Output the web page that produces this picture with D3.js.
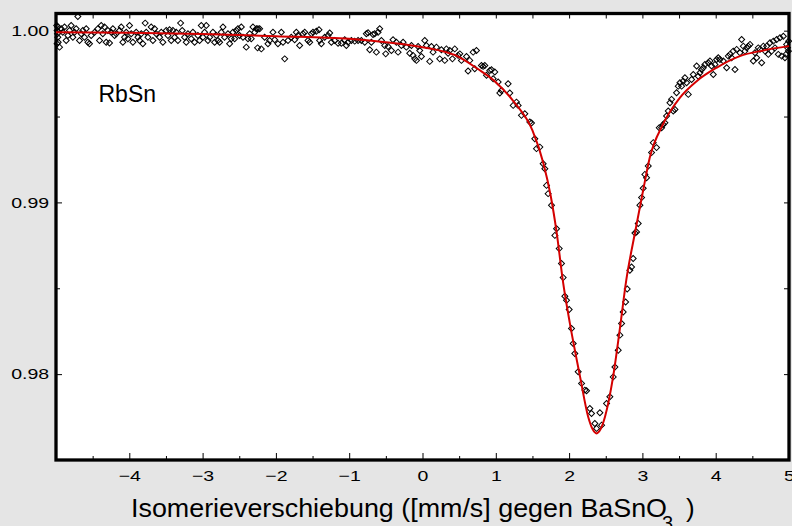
<!DOCTYPE html>
<html>
<head>
<meta charset="utf-8">
<script src="https://cdn.jsdelivr.net/npm/d3@7"></script>
<style>
  body { margin: 0; background: #e5e5e5; }
  svg { display: block; }
</style>
</head>
<body>
<svg id="chart"></svg>
<script>
// measured spectrum: [velocity (mm/s), relative transmission]
const measured = [
  [-4.99,1.00030],[-4.985,1.00001],[-4.985,0.99924],[-4.98,0.99982],[-4.975,0.99962],[-4.975,1.00021],[-4.97,0.99933],[-4.952,0.99904],
  [-4.929,1.00011],[-4.907,0.99991],[-4.884,1.00021],[-4.861,0.99943],[-4.838,0.99972],[-4.816,1.00001],[-4.793,1.00030],[-4.770,0.99962],
  [-4.747,0.99991],[-4.725,1.00011],[-4.702,1.00083],[-4.679,0.99943],[-4.656,0.99982],[-4.634,1.00001],[-4.611,0.99962],[-4.588,1.00011],
  [-4.565,0.99933],[-4.543,0.99924],[-4.520,0.99972],[-4.474,0.99991],[-4.429,1.00011],[-4.406,0.99943],[-4.383,1.00030],[-4.361,0.99982],
  [-4.338,1.00021],[-4.315,0.99933],[-4.292,1.00001],[-4.270,0.99928],[-4.247,0.99991],[-4.224,1.00011],[-4.201,0.99972],[-4.179,0.99982],
  [-4.133,1.00001],[-4.110,1.00021],[-4.088,0.99933],[-4.065,0.99962],[-4.042,0.99991],[-4.019,0.99953],[-3.997,1.00030],[-3.974,0.99982],
  [-3.951,0.99933],[-3.906,0.99991],[-3.883,0.99962],[-3.860,0.99943],[-3.837,0.99982],[-3.815,0.99924],[-3.783,1.00044],[-3.769,0.99991],
  [-3.746,0.99962],[-3.701,1.00021],[-3.678,0.99943],[-3.655,1.00011],[-3.633,0.99982],[-3.587,0.99962],[-3.564,0.99991],[-3.542,0.99933],
  [-3.496,1.00001],[-3.473,0.99972],[-3.451,1.00005],[-3.428,0.99943],[-3.405,1.00001],[-3.382,0.99962],[-3.360,0.99991],[-3.337,0.99943],
  [-3.300,1.00044],[-3.278,1.00001],[-3.246,0.99962],[-3.223,0.99933],[-3.200,0.99982],[-3.155,0.99953],[-3.132,0.99991],[-3.109,0.99933],
  [-3.064,0.99972],[-3.041,0.99943],[-3.018,1.00030],[-2.995,0.99962],[-2.973,0.99991],[-2.950,1.00030],[-2.927,0.99943],[-2.904,0.99962],
  [-2.859,0.99991],[-2.836,0.99933],[-2.813,0.99972],[-2.791,0.99943],[-2.768,0.99933],[-2.745,0.99991],[-2.722,1.00021],[-2.700,0.99962],
  [-2.654,0.99982],[-2.631,0.99924],[-2.609,0.99953],[-2.586,0.99991],[-2.563,0.99953],[-2.540,1.00001],[-2.518,1.00011],[-2.495,0.99972],
  [-2.472,1.00021],[-2.449,0.99962],[-2.404,0.99904],[-2.381,0.99953],[-2.358,0.99982],[-2.336,0.99953],[-2.313,1.00021],[-2.290,0.99991],
  [-2.267,1.00011],[-2.250,0.99900],[-2.245,1.00011],[-2.222,1.00011],[-2.199,0.99894],[-2.154,0.99962],[-2.108,0.99924],[-2.085,0.99943],
  [-2.040,0.99991],[-2.017,0.99947],[-1.972,0.99924],[-1.926,0.99991],[-1.903,0.99933],[-1.880,0.99836],[-1.835,0.99943],[-1.790,0.99962],
  [-1.744,0.99947],[-1.721,0.99991],[-1.699,0.99972],[-1.676,0.99914],[-1.630,0.99982],[-1.607,0.99991],[-1.562,0.99943],[-1.539,0.99933],
  [-1.516,0.99982],[-1.494,0.99991],[-1.448,0.99997],[-1.412,1.00005],[-1.403,0.99943],[-1.380,0.99924],[-1.334,0.99962],[-1.289,0.99972],
  [-1.266,0.99986],[-1.243,0.99933],[-1.198,0.99943],[-1.152,0.99927],[-1.107,0.99927],[-1.061,0.99947],[-1.039,0.99914],[-1.016,0.99933],
  [-0.970,0.99943],[-0.925,0.99939],[-0.879,0.99943],[-0.834,0.99943],[-0.788,0.99933],[-0.766,0.99982],[-0.743,0.99988],[-0.720,0.99889],
  [-0.697,0.99933],[-0.675,0.99978],[-0.652,0.99982],[-0.629,0.99875],[-0.606,0.99991],[-0.584,1.00011],[-0.561,0.99943],[-0.515,0.99914],
  [-0.502,0.99865],[-0.470,0.99908],[-0.424,0.99885],[-0.402,0.99947],[-0.356,0.99933],[-0.333,0.99875],[-0.288,0.99914],[-0.265,0.99933],
  [-0.220,0.99904],[-0.174,0.99869],[-0.151,0.99914],[-0.129,0.99856],[-0.106,0.99836],[-0.083,0.99827],[-0.060,0.99908],[-0.038,0.99885],
  [-0.015,0.99850],[0.031,0.99943],[0.053,0.99914],[0.099,0.99821],[0.122,0.99908],[0.144,0.99875],[0.190,0.99904],[0.235,0.99836],
  [0.258,0.99889],[0.304,0.99827],[0.326,0.99894],[0.349,0.99869],[0.372,0.99885],[0.408,0.99836],[0.440,0.99894],[0.486,0.99856],
  [0.509,0.99865],[0.531,0.99827],[0.600,0.99850],[0.622,0.99765],[0.645,0.99827],[0.691,0.99875],[0.713,0.99778],[0.736,0.99885],
  [0.804,0.99797],[0.827,0.99792],[0.850,0.99797],[0.873,0.99740],[0.918,0.99768],[0.941,0.99772],[0.964,0.99720],[0.986,0.99759],
  [1.032,0.99701],[1.055,0.99637],[1.077,0.99652],[1.168,0.99691],[1.191,0.99637],[1.237,0.99565],[1.282,0.99584],[1.305,0.99565],
  [1.350,0.99507],[1.396,0.99516],[1.464,0.99468],[1.487,0.99462],[1.532,0.99371],[1.555,0.99313],[1.601,0.99322],[1.646,0.99225],
  [1.669,0.99196],[1.692,0.99099],[1.714,0.99051],[1.760,0.98983],[1.806,0.98808],[1.829,0.98847],[1.865,0.98731],[1.896,0.98644],
  [1.919,0.98562],[1.942,0.98454],[1.965,0.98430],[2.001,0.98376],[2.033,0.98266],[2.056,0.98178],[2.078,0.98120],[2.124,0.98014],
  [2.170,0.97946],[2.215,0.97907],[2.238,0.97903],[2.283,0.97800],[2.306,0.97771],[2.351,0.97713],[2.375,0.97684],[2.420,0.97775],
  [2.443,0.97703],[2.511,0.97829],[2.556,0.97868],[2.602,0.97984],[2.625,0.98042],[2.670,0.98139],[2.693,0.98227],[2.716,0.98295],
  [2.738,0.98362],[2.771,0.98420],[2.793,0.98496],[2.829,0.98605],[2.852,0.98624],[2.874,0.98673],[2.898,0.98822],[2.920,0.98828],
  [2.943,0.98877],[2.966,0.98983],[2.989,0.99028],[3.011,0.99082],[3.034,0.99163],[3.057,0.99144],[3.080,0.99212],[3.125,0.99290],
  [3.148,0.99348],[3.193,0.99319],[3.230,0.99435],[3.262,0.99435],[3.284,0.99454],[3.307,0.99464],[3.330,0.99503],[3.353,0.99532],
  [3.376,0.99580],[3.398,0.99600],[3.421,0.99532],[3.444,0.99541],[3.466,0.99639],[3.489,0.99677],[3.512,0.99697],[3.535,0.99677],
  [3.557,0.99706],[3.580,0.99726],[3.603,0.99697],[3.626,0.99629],[3.671,0.99716],[3.694,0.99745],[3.740,0.99794],[3.762,0.99735],
  [3.785,0.99755],[3.808,0.99774],[3.831,0.99784],[3.853,0.99803],[3.899,0.99813],[3.922,0.99823],[3.944,0.99794],[3.967,0.99745],
  [3.990,0.99803],[4.013,0.99832],[4.035,0.99842],[4.058,0.99832],[4.104,0.99823],[4.149,0.99784],[4.172,0.99852],[4.195,0.99862],
  [4.217,0.99842],[4.240,0.99881],[4.263,0.99774],[4.286,0.99891],[4.331,0.99871],[4.354,0.99949],[4.377,0.99910],[4.399,0.99881],
  [4.422,0.99900],[4.445,0.99910],[4.468,0.99920],[4.513,0.99823],[4.536,0.99871],[4.559,0.99842],[4.581,0.99900],[4.604,0.99891],
  [4.627,0.99813],[4.650,0.99910],[4.672,0.99881],[4.695,0.99910],[4.718,0.99862],[4.741,0.99930],[4.763,0.99881],[4.786,0.99939],
  [4.809,0.99900],[4.832,0.99949],[4.854,0.99862],[4.877,0.99959],[4.900,0.99852],[4.923,0.99968],[4.945,0.99842],[4.960,0.99862],
  [4.968,0.99920],[4.980,0.99900],[4.991,0.99881],[4.995,0.99939]
];

// fitted curve
const fitted = [
  [-5,0.99991],[-4,0.99988],[-3,0.99981],[-2,0.99968],[-1,0.99953],[-0.5,0.99933],[0,0.99904],[0.5,0.99846],
  [0.75,0.99778],[1.0,0.99700],[1.25,0.99584],[1.5,0.99419],[1.65,0.99227],[1.75,0.99036],[1.83,0.98826],[1.92,0.98528],
  [2.01,0.98297],[2.15,0.97984],[2.26,0.97752],[2.32,0.97680],[2.375,0.97655],[2.43,0.97680],[2.49,0.97752],[2.60,0.97984],
  [2.69,0.98256],[2.78,0.98547],[2.90,0.98826],[3.01,0.99070],[3.10,0.99260],[3.28,0.99454],[3.51,0.99609],[3.74,0.99706],
  [4.01,0.99784],[4.33,0.99852],[4.65,0.99885],[5.0,0.99910]
];

const xMajor = [-4, -3, -2, -1, 0, 1, 2, 3, 4, 5];
const xMinor = [-4.5, -3.5, -2.5, -1.5, -0.5, 0.5, 1.5, 2.5, 3.5, 4.5];
const yMajor = [0.98, 0.99, 1.00];
const yMinor = [0.985, 0.995];

const W = 792, H = 526;
const font = "'Liberation Sans', Arial, Helvetica, sans-serif";

const svg = d3.select("#chart").attr("width", W).attr("height", H);

svg.append("rect").attr("width", W).attr("height", H).attr("fill", "#e5e5e5");

const x = d3.scaleLinear().domain([-5, 5]).range([56, 789]);
const y = d3.scaleLinear().domain([0.975, 1.001]).range([460, 13.5]);

// plot background
svg.append("rect")
  .attr("x", x(-5)).attr("y", y(1.001))
  .attr("width", x(5) - x(-5)).attr("height", y(0.975) - y(1.001))
  .attr("fill", "#fff");

function styleAxis(g) {
  g.select(".domain").remove();
  g.selectAll(".tick line").attr("stroke", "#000").attr("stroke-width", 1);
  g.selectAll("text")
    .attr("font-family", font)
    .attr("font-size", 15)
    .attr("fill", "#000")
    .attr("transform", "scale(1.3,1)");
}

// bottom axis
svg.append("g").attr("transform", `translate(0,${y(0.975)})`)
  .call(d3.axisBottom(x).tickValues(xMajor).tickSize(-7).tickPadding(10).tickFormat(d3.format("d")))
  .call(styleAxis);
svg.append("g").attr("transform", `translate(0,${y(0.975)})`)
  .call(d3.axisBottom(x).tickValues(xMinor).tickSize(-4).tickFormat(""))
  .call(styleAxis);

// top axis
svg.append("g").attr("transform", `translate(0,${y(1.001)})`)
  .call(d3.axisTop(x).tickValues(xMajor.concat(xMinor)).tickSize(-5).tickFormat(""))
  .call(styleAxis);

// left axis
svg.append("g").attr("transform", `translate(${x(-5)},0)`)
  .call(d3.axisLeft(y).tickValues(yMajor).tickSize(-6).tickPadding(5.3).tickFormat(d3.format(".2f")))
  .call(styleAxis);
svg.append("g").attr("transform", `translate(${x(-5)},0)`)
  .call(d3.axisLeft(y).tickValues(yMinor).tickSize(-4).tickFormat(""))
  .call(styleAxis);

// right axis
svg.append("g").attr("transform", `translate(${x(5)},0)`)
  .call(d3.axisRight(y).tickValues(yMajor.concat(yMinor)).tickSize(-5).tickFormat(""))
  .call(styleAxis);

// frame
svg.append("rect")
  .attr("x", x(-5)).attr("y", y(1.001))
  .attr("width", x(5) - x(-5)).attr("height", y(0.975) - y(1.001))
  .attr("fill", "none")
  .attr("stroke", "#000")
  .attr("stroke-width", 3.3);

// data points (open diamonds)
const diamond = d3.symbol().type(d3.symbolSquare).size(18);
svg.append("g")
  .selectAll("path")
  .data(measured)
  .enter()
  .append("path")
  .attr("d", diamond)
  .attr("transform", d => `translate(${x(d[0])},${y(d[1])}) rotate(45)`)
  .attr("fill", "none")
  .attr("stroke", "#000")
  .attr("stroke-width", 1);

// fitted line
const line = d3.line()
  .x(d => x(d[0]))
  .y(d => y(d[1]))
  .curve(d3.curveMonotoneX);

svg.append("path")
  .datum(fitted)
  .attr("d", line)
  .attr("fill", "none")
  .attr("stroke", "#d40000")
  .attr("stroke-width", 2);

// sample label
svg.append("text")
  .attr("x", 98.5).attr("y", 101.7)
  .attr("font-family", font)
  .attr("font-size", 23)
  .attr("fill", "#000")
  .text("RbSn");

// x axis title
const title = svg.append("text")
  .attr("font-family", font)
  .attr("font-size", 26)
  .attr("fill", "#000");
title.append("tspan")
  .attr("x", 131).attr("y", 517)
  .attr("textLength", 536)
  .attr("lengthAdjust", "spacingAndGlyphs")
  .text("Isomerieverschiebung ([mm/s] gegen BaSnO");
title.append("tspan")
  .attr("x", 662).attr("y", 530)
  .attr("font-size", 20)
  .text("3");
title.append("tspan")
  .attr("x", 686).attr("y", 517)
  .text(")");
</script>
</body>
</html>
